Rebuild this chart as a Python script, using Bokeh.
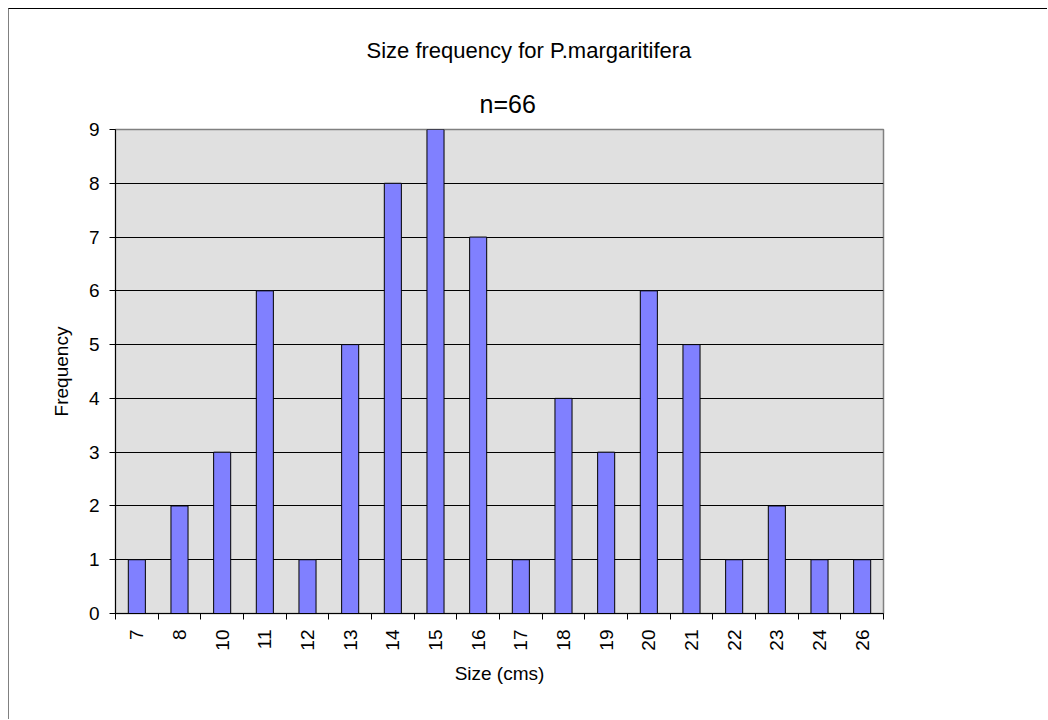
import math
from bokeh.plotting import figure
from bokeh.models import FixedTicker, Range1d, Title, ColumnDataSource
from bokeh.embed import file_html
from bokeh.resources import INLINE

categories = ["7", "8", "10", "11", "12", "13", "14", "15", "16", "17",
              "18", "19", "20", "21", "22", "23", "24", "26"]
frequency = [1, 2, 3, 6, 1, 5, 8, 9, 7, 1, 4, 3, 6, 5, 1, 2, 1, 1]
y_ticks = [0, 1, 2, 3, 4, 5, 6, 7, 8, 9]

n = len(categories)
centers = [i + 0.5 for i in range(n)]
bounds = [float(i) for i in range(n + 1)]

FONT = "Liberation Sans"

p = figure(width=1039, height=711, output_backend="svg", toolbar_location=None,
           x_range=Range1d(0, n), y_range=Range1d(0, 9),
           min_border_left=106, min_border_right=165,
           min_border_top=120, min_border_bottom=107,
           background_fill_color="#E0E0E0", border_fill_color="white",
           outline_line_color="#808080", outline_line_width=1.5,
           styles={"margin-left": "8px", "margin-top": "8px",
                   "border-top": "1px solid black", "border-left": "1px solid #808080"})

src = ColumnDataSource(dict(x=centers, top=frequency, cat=categories))
p.vbar(x="x", top="top", bottom=0, width=0.4, source=src,
       fill_color="#8080FF", line_color="black", line_width=1)

# titles (first added is nearest to the frame)
p.title = None
t2 = Title(text="n=66", align="left", offset=364, text_font=FONT,
           text_font_size="25px", text_font_style="normal", text_color="black",
           standoff=24)
p.add_layout(t2, "above")
t1 = Title(text="Size frequency for P.margaritifera", align="left", offset=251,
           text_font=FONT, text_font_size="22px", text_font_style="normal",
           text_color="black", standoff=26)
p.add_layout(t1, "above")

# x axis
p.xaxis.ticker = FixedTicker(ticks=centers, minor_ticks=bounds)
p.xaxis.major_label_overrides = {c: lab for c, lab in zip(centers, categories)}
p.xaxis.minor_tick_line_color = "black"
p.xaxis.minor_tick_out = 6
p.xaxis.minor_tick_in = 0
p.xaxis.major_label_orientation = math.pi / 2
p.xaxis.major_label_standoff = 10
p.xaxis.axis_label = "Size (cms)"
p.xaxis.axis_label_standoff = 9

# y axis
p.yaxis.ticker = FixedTicker(ticks=y_ticks)
p.yaxis.minor_tick_line_color = None
p.yaxis.major_tick_out = 6
p.yaxis.major_tick_in = 0
p.yaxis.major_label_standoff = 10
p.yaxis.axis_label = "Frequency"
p.yaxis.axis_label_standoff = 14

for ax in (p.xaxis, p.yaxis):
    ax.axis_line_color = "black"
    ax.major_label_text_font = FONT
    ax.major_label_text_font_size = "19px"
    ax.major_label_text_color = "black"
    ax.axis_label_text_font = FONT
    ax.axis_label_text_font_size = "19px"
    ax.axis_label_text_font_style = "normal"
    ax.axis_label_text_color = "black"
p.yaxis.major_tick_line_color = "black"
p.xaxis.major_tick_line_color = None

p.xgrid.grid_line_color = None
p.ygrid.ticker = FixedTicker(ticks=y_ticks[1:-1])
p.ygrid.grid_line_color = "black"
p.ygrid.grid_line_width = 1

open("out.html", "w").write(file_html(p, INLINE))
